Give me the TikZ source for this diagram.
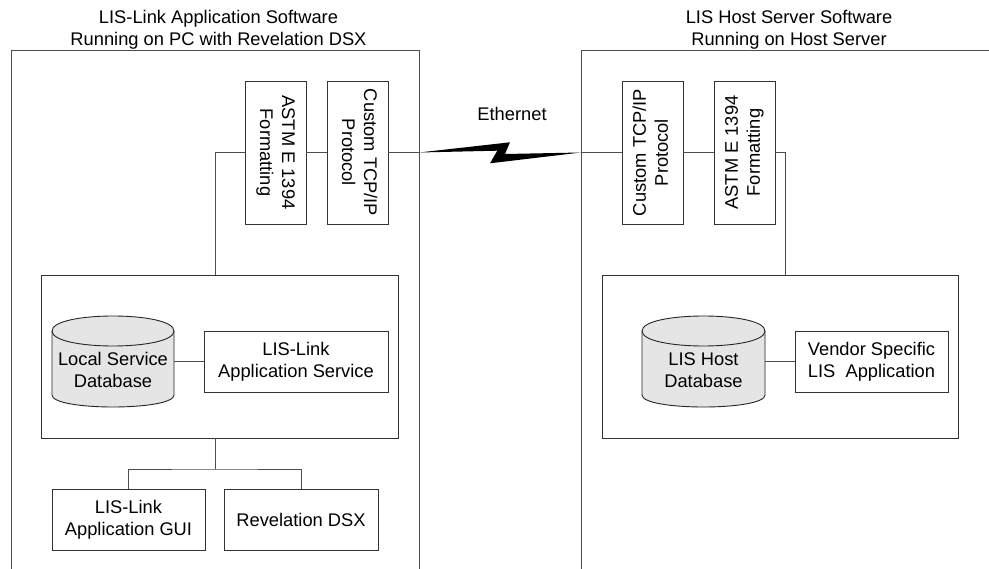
\documentclass[tikz,border=0pt]{standalone}
\usepackage{fontspec}
\setmainfont{Liberation Sans}
\usepackage{graphicx}
\usetikzlibrary{calc}
\tikzset{
  ln/.style={draw=black!70, line width=0.9pt},
  box/.style={draw=black!80, line width=0.9pt, fill=white, inner sep=0pt, align=center,
    font=\fontsize{18.3}{22}\selectfont},
  lbl/.style={inner sep=0pt, align=center, font=\fontsize{18.3}{22}\selectfont},
  cylfill/.style={draw=black!85, line width=0.9pt, fill=black!10},
  cylline/.style={draw=black!85, line width=0.9pt},
  dbarea/.style={inner sep=0pt, minimum height=91pt},
}
\newcommand\mkcyl[2]{%
  \path[cylfill] (#1,331) -- (#1,395) .. controls (#1,411) and (#2,411) .. (#2,395)
     -- (#2,331) .. controls (#2,311) and (#1,311) .. cycle;
  \draw[cylline] (#1,331) .. controls (#1,351) and (#2,351) .. (#2,331);
}
\begin{document}
\begin{tikzpicture}[x=1pt,y=-1pt]
\useasboundingbox (0,0) rectangle (989,569);

% outer frames
\draw[ln] (11,575) -- (11,50) -- (419,50) -- (419,575);
\draw[ln] (581,575) -- (581,50) -- (995,50);

% titles
\node[lbl] (tL) at (218.5,29.3) {LIS-Link Application Software\\Running on PC with Revelation DSX};
\node[lbl] (tR) at (789,29.3) {LIS Host Server Software\\Running on Host Server};
\node[lbl] (eth) at (512,113.5) {Ethernet};

% protocol boxes
\node[box, minimum width=61pt, minimum height=143pt] (astmL) at (275.5,152.5)
  {\rotatebox{-90}{\begin{tabular}{@{}c@{}}ASTM E 1394\\Formatting\end{tabular}}};
\node[box, minimum width=61pt, minimum height=143pt] (cusL) at (357.5,152.5)
  {\rotatebox{-90}{\begin{tabular}{@{}c@{}}Custom TCP/IP\\Protocol\end{tabular}}};
\node[box, minimum width=61pt, minimum height=143pt] (cusR) at (652.5,152.5)
  {\rotatebox{90}{\begin{tabular}{@{}c@{}}Custom TCP/IP\\Protocol\end{tabular}}};
\node[box, minimum width=61pt, minimum height=143pt] (astmR) at (744.5,152.5)
  {\rotatebox{90}{\begin{tabular}{@{}c@{}}ASTM E 1394\\Formatting\end{tabular}}};

% inner service boxes
\node[box, minimum width=357pt, minimum height=163pt] (innerL) at (219.5,356.5) {};
\node[box, minimum width=356pt, minimum height=163pt] (innerR) at (780,356.5) {};

\node[box, minimum width=184pt, minimum height=61pt] (appL) at (296,361.5) {LIS-Link\\Application Service};
\node[box, minimum width=153pt, minimum height=61pt] (vendR) at (871.5,361.5) {Vendor Specific\\LIS~\ Application};

% databases
\node[dbarea, minimum width=122pt] (dbL) at (113,361.5) {};
\node[dbarea, minimum width=123pt] (dbR) at (703.5,361.5) {};
\mkcyl{52}{174}
\mkcyl{642}{765}
\node[lbl] (dbLt) at (113,370) {Local Service\\Database};
\node[lbl] (dbRt) at (703.5,370) {LIS Host\\Database};

% bottom boxes
\node[box, minimum width=153pt, minimum height=61pt] (gui) at (128.5,519.5) {LIS-Link\\Application GUI};
\node[box, minimum width=154pt, minimum height=61pt] (rev) at (301,519.5) {Revelation DSX};

% connectors
\coordinate (jL) at (215,275);
\coordinate (jR) at (785,275);
\coordinate (eL) at (419,152.5);
\coordinate (eR) at (581,152.5);
\coordinate (jL2) at (215,438);
\coordinate (bus) at (215,469);

\draw[ln] (astmL.west) -| (jL);
\draw[ln] (astmL.east) -- (cusL.west);
\draw[ln] (cusL.east) -- (eL);
\draw[ln] (eR) -- (cusR.west);
\draw[ln] (cusR.east) -- (astmR.west);
\draw[ln] (astmR.east) -| (jR);
\draw[ln] (dbL.east) -- (appL.west);
\draw[ln] (dbR.east) -- (vendR.west);
\draw[ln] (jL2) -- (bus);
\draw[ln] (gui.north) |- (bus) -| (rev.north);

% lightning
\fill[black] (eL) -- (510,142.3) -- (505,154) -- (eR) -- (490,163.3) -- (497.3,150.7) -- cycle;
\end{tikzpicture}
\end{document}
